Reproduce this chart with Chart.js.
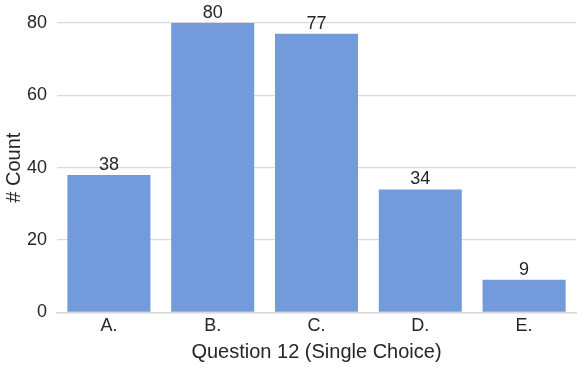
<!DOCTYPE html>
<html>
<head>
<meta charset="utf-8">
<script src="https://cdn.jsdelivr.net/npm/chart.js@4"></script>
<style>
  html, body { margin: 0; padding: 0; background: #fff; }
  #wrap { width: 582px; height: 367px; }
</style>
</head>
<body>
<div id="wrap"><canvas id="countChart"></canvas></div>
<script>
// chart data
const categories = ['A.', 'B.', 'C.', 'D.', 'E.'];
const counts = [38, 80, 77, 34, 9];
const yTicks = [0, 20, 40, 60, 80];

const barColor = '#739bdc';
const gridColor = '#d9d9d9';
const textColor = '#262626';
const fontFamily = '"Liberation Sans", Arial, sans-serif';

// draws the count above every bar
const valueLabels = {
    id: 'valueLabels',
    afterDatasetsDraw(chart) {
        const ctx = chart.ctx;
        const meta = chart.getDatasetMeta(0);
        ctx.save();
        ctx.fillStyle = textColor;
        ctx.font = '18px ' + fontFamily;
        ctx.textAlign = 'center';
        ctx.textBaseline = 'bottom';
        meta.data.forEach((bar, i) => {
            ctx.fillText(String(counts[i]), bar.x, bar.y - 1);
        });
        ctx.restore();
    }
};

const ctx = document.getElementById('countChart').getContext('2d');
new Chart(ctx, {
    type: 'bar',
    data: {
        labels: categories,
        datasets: [{
            label: '# Count',
            data: counts,
            backgroundColor: barColor,
            borderWidth: 0,
            categoryPercentage: 1.0,
            barPercentage: 0.8
        }]
    },
    options: {
        responsive: true,
        maintainAspectRatio: false,
        animation: false,
        layout: { padding: { top: 23, right: 6, left: 0, bottom: 3 } },
        scales: {
            x: {
                grid: { display: false, drawTicks: false },
                border: { display: true, color: gridColor, width: 1.5 },
                ticks: { color: textColor, font: { family: fontFamily, size: 18 }, padding: 3 },
                title: {
                    display: true,
                    text: 'Question 12 (Single Choice)',
                    color: textColor,
                    font: { family: fontFamily, size: 20 },
                    padding: { top: 0, bottom: 0 }
                }
            },
            y: {
                min: 0,
                max: 80,
                afterBuildTicks: (axis) => { axis.ticks = yTicks.map(v => ({ value: v })); },
                afterFit: (axis) => { axis.width = 57; },
                grid: { color: gridColor, lineWidth: 1.2, drawTicks: false },
                border: { display: false },
                ticks: { color: textColor, font: { family: fontFamily, size: 18 }, padding: 10 },
                title: {
                    display: true,
                    text: '# Count',
                    color: textColor,
                    font: { family: fontFamily, size: 20 },
                    padding: { top: 2, bottom: 0 }
                }
            }
        },
        plugins: {
            legend: { display: false },
            tooltip: { enabled: false }
        }
    },
    plugins: [valueLabels]
});
</script>
</body>
</html>
